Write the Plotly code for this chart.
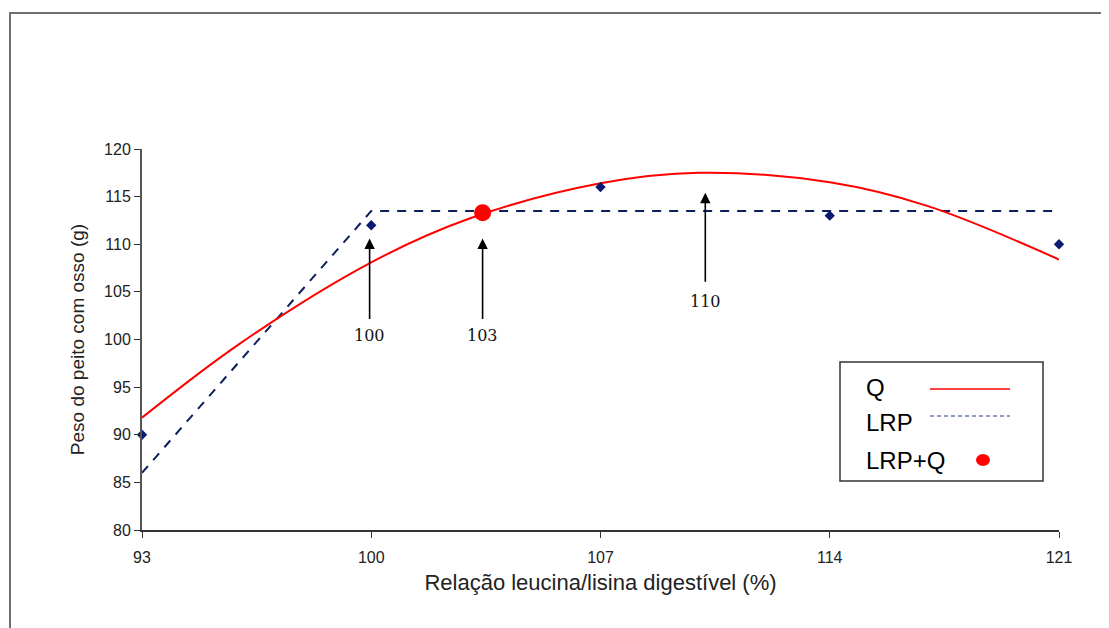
import plotly.graph_objects as go

# Observed data
obs_x = [93, 100, 107, 114, 121]
obs_y = [90, 112, 116, 113, 110]

# Quadratic (Q) curve
q_x = [93, 96, 100, 103, 107, 110, 114, 117, 121]
q_y = [91.8, 99.6, 108.1, 112.7, 116.4, 117.5, 116.5, 114.0, 108.4]

# Linear response plateau (LRP)
lrp_x = [93, 100, 121]
lrp_y = [86.0, 113.5, 113.5]

# LRP + Q intersection
lrpq_x = [103.4]
lrpq_y = [113.3]

# Arrows
arrow_x = [99.95, 103.4, 110.2]
arrow_tip = [110.6, 110.6, 115.4]
arrow_tail = [102.0, 102.0, 105.9]
arrow_labels = ["100", "103", "110"]
arrow_label_y = [100.4, 100.4, 104.0]

x_ticks = [93, 100, 107, 114, 121]
y_ticks = [80, 85, 90, 95, 100, 105, 110, 115, 120]

W, H = 1109, 628
OFF = 8  # page body margin
L, R, T, B = 134, 58, 141, 106
pw, ph = W - L - R, H - T - B

def px(xp):
    return (xp - OFF - L) / pw

def py(yp):
    return (H - B - (yp - OFF)) / ph

fig = go.Figure()
fig.add_trace(go.Scatter(x=lrp_x, y=lrp_y, mode="lines",
                         line=dict(color="#0b1f5e", width=2, dash="9px,8px"),
                         showlegend=False, cliponaxis=False))
fig.add_trace(go.Scatter(x=q_x, y=q_y, mode="lines", line_shape="spline",
                         line=dict(color="#ff0000", width=2),
                         showlegend=False, cliponaxis=False))
fig.add_trace(go.Scatter(x=obs_x, y=obs_y, mode="markers",
                         marker=dict(symbol="diamond", size=8, color="#0a1a70"),
                         showlegend=False, cliponaxis=False))
fig.add_trace(go.Scatter(x=lrpq_x, y=lrpq_y, mode="markers",
                         marker=dict(symbol="circle", size=17, color="#ff0000"),
                         showlegend=False, cliponaxis=False))

annotations = []
for xa, tip, tail, lab, ly in zip(arrow_x, arrow_tip, arrow_tail, arrow_labels, arrow_label_y):
    annotations.append(dict(x=xa, y=tip, ax=xa, ay=tail, xref="x", yref="y",
                            axref="x", ayref="y", text="", showarrow=True,
                            arrowhead=2, arrowsize=1.3, arrowwidth=1.6,
                            arrowcolor="#000000"))
    annotations.append(dict(x=xa, y=ly, xref="x", yref="y", text=lab,
                            showarrow=False,
                            font=dict(family="DejaVu Serif", size=16, color="#111111")))

# Manual legend (symbols on the right, as in the reference)
leg_font = dict(family="Liberation Sans, Arial", size=24, color="#000000")
annotations.append(dict(x=px(864), y=py(387), xref="paper", yref="paper", text="Q",
                        showarrow=False, xanchor="left", yanchor="middle", font=leg_font))
annotations.append(dict(x=px(864), y=py(422), xref="paper", yref="paper", text="LRP",
                        showarrow=False, xanchor="left", yanchor="middle", font=leg_font))
annotations.append(dict(x=px(864), y=py(460), xref="paper", yref="paper", text="LRP+Q",
                        showarrow=False, xanchor="left", yanchor="middle", font=leg_font))

shapes = [
    # outer frame
    dict(type="rect", xref="paper", yref="paper", x0=px(10), x1=px(1125), y0=py(650), y1=py(13),
         line=dict(color="#707070", width=2), fillcolor="rgba(0,0,0,0)", layer="below"),
    # legend box
    dict(type="rect", xref="paper", yref="paper", x0=px(840), x1=px(1043), y0=py(481), y1=py(362),
         line=dict(color="#333333", width=1.5), fillcolor="#ffffff", layer="above"),
    dict(type="line", xref="paper", yref="paper", x0=px(930), x1=px(1010), y0=py(389), y1=py(389),
         line=dict(color="#ff0000", width=1.5), layer="above"),
    dict(type="line", xref="paper", yref="paper", x0=px(930), x1=px(1010), y0=py(416), y1=py(416),
         line=dict(color="#1f3a8a", width=1.2, dash="4px,3px"), layer="above"),
    dict(type="circle", xref="paper", yref="paper", x0=px(976), x1=px(990), y0=py(466), y1=py(454),
         line=dict(color="#ff0000", width=0), fillcolor="#ff0000", layer="above"),
]

fig.update_layout(
    width=W, height=H,
    margin=dict(l=L, r=R, t=T, b=B, pad=0),
    paper_bgcolor="#ffffff", plot_bgcolor="#ffffff",
    showlegend=False,
    annotations=annotations,
    shapes=shapes,
    xaxis=dict(range=[93, 121], tickvals=x_ticks, ticktext=[str(v) for v in x_ticks],
               showgrid=False, zeroline=False, showline=True, linecolor="#333333", linewidth=1.5,
               ticks="outside", ticklen=6, tickwidth=1, tickcolor="#333333",
               ticklabelstandoff=6,
               tickfont=dict(family="Liberation Sans, Arial", size=16, color="#222222"),
               title=dict(text="Relação leucina/lisina digestível (%)",
                          font=dict(family="Liberation Sans, Arial", size=22, color="#222222"),
                          standoff=10)),
    yaxis=dict(range=[80, 120], tickvals=y_ticks, ticktext=[str(v) for v in y_ticks],
               showgrid=False, zeroline=False, showline=True, linecolor="#555555", linewidth=2,
               ticks="outside", ticklen=6, tickwidth=1, tickcolor="#333333",
               tickfont=dict(family="Liberation Sans, Arial", size=16, color="#222222"),
               title=dict(text="Peso do peito com osso (g)",
                          font=dict(family="Liberation Sans, Arial", size=19, color="#222222"),
                          standoff=14)),
)

fig.write_html("out.html")
